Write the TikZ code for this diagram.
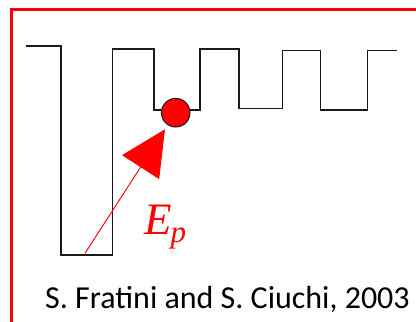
\documentclass[tikz,border=0pt]{standalone}
\usepackage{fontspec}
\setmainfont{Carlito}
\newfontfamily\epfont{Liberation Serif}
\usetikzlibrary{arrows.meta}
\definecolor{accent}{HTML}{FF0000}
\definecolor{ink}{HTML}{1A1A1A}

\begin{document}
\begin{tikzpicture}[
    x=1pt, y=-1pt,
    frame/.style={draw=accent, line width=3pt},
    wellline/.style={draw=ink, line width=1.2pt},
    polaron/.style={circle, draw=ink, line width=1pt, fill=accent,
                    minimum size=28.6pt, inner sep=0pt},
    arrow/.style={-{Triangle[length=45pt, width=44pt]}, draw=accent,
                  fill=accent, line width=0.9pt, shorten >=5pt},
    lbl/.style={text=accent, inner sep=0pt, font=\epfont\itshape\fontsize{45}{45}\selectfont},
    cite/.style={inner sep=0pt, font=\fontsize{32}{32}\selectfont}
  ]
    \useasboundingbox (0,0) rectangle (416,322);
    \clip (0,0) rectangle (416,322);
    \fill[white] (0,0) rectangle (416,322);

    % red frame, cut at the page edge
    \draw[frame] (11.5,9.5) rectangle (440,345);

    % potential landscape
    \draw[wellline] (26,46) -- (61,46) -- (61,255) -- (112.7,255) -- (112.7,49)
      -- (154,49) -- (154,110) -- (200,110) -- (200,49) -- (239,49)
      -- (239,108.3) -- (282.7,108.3) -- (282.7,50.7) -- (320.7,50.7)
      -- (320.7,110) -- (367.7,110) -- (367.7,50.7) -- (396.7,50.7);

    \node[polaron] (p) at (175.7,112.7) {};
    \coordinate (src) at (85,253.3);
    \draw[arrow] (src) -- (p);

    \node[lbl, anchor=base west] (ep) at (144,234)
      {E\kern-1pt\raisebox{-8pt}{\fontsize{31}{31}\selectfont p}};

    \node[cite, anchor=base] (ref) at (227.5,308.3) {S. Fratini and S. Ciuchi, 2003};
  \end{tikzpicture}
\end{document}
